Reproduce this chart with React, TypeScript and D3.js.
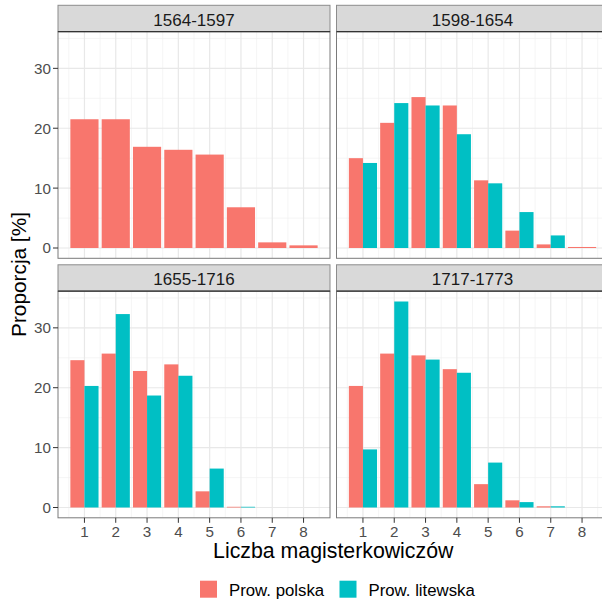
import React from "react";
import * as d3 from "d3";

const periods = ["1564-1597", "1598-1654", "1655-1716", "1717-1773"];
const counts = [1, 2, 3, 4, 5, 6, 7, 8];
const seriesNames = ["Prow. polska", "Prow. litewska"];
const seriesColors = ["#F8766D", "#00BFC4"];

const polska: (number | null)[][] = [
  [21.5, 21.5, 16.9, 16.4, 15.6, 6.8, 0.94, 0.44],
  [15.0, 20.9, 25.2, 23.8, 11.3, 2.9, 0.6, 0.17],
  [24.6, 25.7, 22.8, 23.9, 2.7, 0.12, null, null],
  [20.3, 25.7, 25.4, 23.1, 3.9, 1.2, 0.2, null],
];
const litewska: (number | null)[][] = [
  [null, null, null, null, null, null, null, null],
  [14.2, 24.2, 23.8, 19.0, 10.8, 6.0, 2.1, null],
  [20.3, 32.3, 18.7, 22.0, 6.5, 0.12, null, null],
  [9.7, 34.4, 24.7, 22.5, 7.5, 0.9, 0.2, null],
];
const yTicks = [0, 10, 20, 30];
const yMinor = [5, 15, 25, 35];
const xMinor = [0.5, 1.5, 2.5, 3.5, 4.5, 5.5, 6.5, 7.5, 8.5];

const FONT = "'Liberation Sans', Arial, Helvetica, sans-serif";

export default function App() {
  const W = 602, H = 604;
  const colX = [58, 336.5];
  const panelW = 272;
  const rowStripTop = [5.3, 264.8];
  const stripH = 26.4;
  const panelH = 226.6;

  const allVals = [...polska.flat(), ...litewska.flat()].filter((v) => v != null) as number[];
  const yMax = d3.max(allVals)!;
  const pad = yMax * 0.05;
  const xLo = 0.55, xHi = 8.45;
  const xPad = (xHi - xLo) * 0.05;

  const x = d3.scaleLinear().domain([xLo - xPad, xHi + xPad]).range([0, panelW]);
  const y = d3.scaleLinear().domain([-pad, yMax + pad]).range([panelH, 0]);

  const panels = periods.map((p, i) => {
    const col = i % 2;
    const row = Math.floor(i / 2);
    const px = colX[col];
    const stripTop = rowStripTop[row];
    const py = stripTop + stripH;
    const bars: { x0: number; x1: number; v: number; c: string }[] = [];
    counts.forEach((c, j) => {
      const a = polska[i][j];
      const b = litewska[i][j];
      const present = [a, b].map((v, k) => ({ v, k })).filter((d) => d.v != null);
      const n = present.length;
      present.forEach((d, idx) => {
        const w = 0.9 / n;
        const x0 = c - 0.45 + idx * w;
        bars.push({ x0, x1: x0 + w, v: d.v as number, c: seriesColors[d.k] });
      });
    });
    return { p, col, row, px, py, stripTop, bars };
  });

  return (
    <svg
      width={W}
      height={H}
      style={{ position: "absolute", left: 0, top: 0, background: "#fff" }}
      fontFamily={FONT}
    >
      <defs>
        {panels.map((pn, i) => (
          <clipPath id={`clip${i}`} key={i}>
            <rect x={0} y={0} width={panelW} height={panelH} />
          </clipPath>
        ))}
      </defs>
      <rect width={W} height={H} fill="#fff" />
      {panels.map((pn, i) => (
        <g key={i}>
          <rect
            x={pn.px}
            y={pn.stripTop}
            width={panelW}
            height={stripH}
            fill="#D9D9D9"
            stroke="#8c8c8c"
            strokeWidth={1}
          />
          <text
            x={pn.px + panelW / 2}
            y={pn.stripTop + 20.5}
            textAnchor="middle"
            fontSize={17}
            fill="#1A1A1A"
          >
            {pn.p}
          </text>
          <g transform={`translate(${pn.px},${pn.py})`}>
            <g clipPath={`url(#clip${i})`}>
              <rect width={panelW} height={panelH} fill="#fff" />
              {yMinor.map((t) => (
                <line key={"ym" + t} x1={0} x2={panelW} y1={y(t)} y2={y(t)} stroke="#F0F0F0" strokeWidth={0.7} />
              ))}
              {xMinor.map((t) => (
                <line key={"xm" + t} y1={0} y2={panelH} x1={x(t)} x2={x(t)} stroke="#F0F0F0" strokeWidth={0.7} />
              ))}
              {yTicks.map((t) => (
                <line key={"y" + t} x1={0} x2={panelW} y1={y(t)} y2={y(t)} stroke="#E8E8E8" strokeWidth={1.2} />
              ))}
              {counts.map((t) => (
                <line key={"x" + t} y1={0} y2={panelH} x1={x(t)} x2={x(t)} stroke="#E8E8E8" strokeWidth={1.2} />
              ))}
              {pn.bars.map((b, k) => (
                <rect
                  key={k}
                  x={x(b.x0)}
                  width={x(b.x1) - x(b.x0)}
                  y={y(b.v)}
                  height={y(0) - y(b.v)}
                  fill={b.c}
                />
              ))}
            </g>
            <rect width={panelW} height={panelH} fill="none" stroke="#7a7a7a" strokeWidth={1} />
            <line x1={0} x2={panelW} y1={0} y2={0} stroke="#333" strokeWidth={1.2} />
            {pn.col === 0 &&
              yTicks.map((t) => (
                <g key={"yt" + t} transform={`translate(0,${y(t)})`}>
                  <line x1={-5} x2={0} stroke="#333" strokeWidth={1} />
                  <text x={-7} dy="0.36em" textAnchor="end" fontSize={15.2} fill="#4D4D4D">
                    {t}
                  </text>
                </g>
              ))}
            {pn.row === 1 &&
              counts.map((t) => (
                <g key={"xt" + t} transform={`translate(${x(t)},${panelH})`}>
                  <line y1={0} y2={5} stroke="#333" strokeWidth={1} />
                  <text y={19} textAnchor="middle" fontSize={15.2} fill="#4D4D4D">
                    {t}
                  </text>
                </g>
              ))}
          </g>
        </g>
      ))}
      <text x={colX[0] + (colX[1] + panelW - colX[0]) / 2} y={558} textAnchor="middle" fontSize={21.3} fill="#000">
        Liczba magisterkowiczów
      </text>
      <text
        transform={`translate(26,274.5) rotate(-90)`}
        textAnchor="middle"
        fontSize={20.8}
        fill="#000"
      >
        Proporcja [%]
      </text>
      {seriesNames.map((s, k) => {
        const lx = [200, 339.5][k];
        return (
          <g key={s}>
            <rect x={lx} y={580.7} width={17} height={17} fill={seriesColors[k]} />
            <text x={lx + 29} y={596} fontSize={16.8} fill="#000">
              {s}
            </text>
          </g>
        );
      })}
    </svg>
  );
}
